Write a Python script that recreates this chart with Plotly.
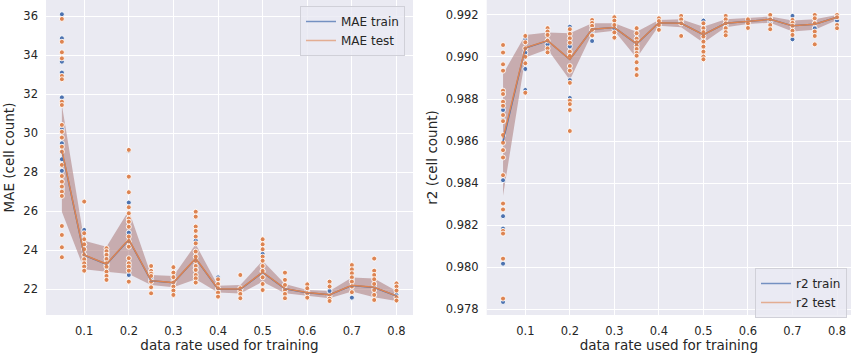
import plotly.graph_objects as go

# ---------------- data ----------------
rates = [0.05, 0.1, 0.15, 0.2, 0.25, 0.3, 0.35, 0.4, 0.45, 0.5, 0.55, 0.6, 0.65, 0.7, 0.75, 0.8]
x_ticks = [0.1, 0.2, 0.3, 0.4, 0.5, 0.6, 0.7, 0.8]
x_tick_labels = ["0.1", "0.2", "0.3", "0.4", "0.5", "0.6", "0.7", "0.8"]
mae_ticks = [22, 24, 26, 28, 30, 32, 34, 36]
r2_ticks = [0.978, 0.980, 0.982, 0.984, 0.986, 0.988, 0.990, 0.992]
r2_tick_labels = ["0.978", "0.980", "0.982", "0.984", "0.986", "0.988", "0.990", "0.992"]

mae_test_points = [
    [35.85, 34.68, 34.14, 33.83, 32.93, 32.76, 31.61, 31.44, 30.42, 30.07, 29.77, 29.30, 29.05, 28.37, 27.80, 27.51, 27.26, 27.00, 26.78, 25.24, 24.78, 24.15, 23.64],
    [26.49, 24.87, 24.56, 24.30, 24.05, 23.76, 23.54, 23.33, 23.16, 22.95],
    [24.10, 23.95, 23.76, 23.55, 23.33, 23.15, 22.90, 22.68, 22.48],
    [29.14, 27.77, 26.97, 26.20, 25.89, 25.62, 25.46, 25.20, 24.70, 24.44, 24.18, 23.59, 23.33, 23.16, 22.95, 22.39],
    [23.19, 22.94, 22.80, 22.68, 22.39, 22.10, 21.79],
    [23.13, 22.85, 22.62, 22.34, 22.14, 21.93, 21.71],
    [25.97, 25.72, 25.21, 24.99, 24.70, 24.35, 23.93, 23.67, 23.45, 23.19, 22.99, 22.73, 22.56, 22.34],
    [22.51, 22.27, 22.05, 21.83, 21.62],
    [22.73, 22.05, 21.90, 21.76, 21.54],
    [24.56, 24.30, 24.05, 23.67, 23.46, 23.19, 22.94, 22.61, 22.27, 21.96],
    [22.85, 22.48, 22.22, 21.95, 21.76, 21.54],
    [22.25, 22.05, 21.79, 21.57],
    [22.39, 22.14, 21.66, 21.52, 21.40],
    [23.24, 23.02, 22.82, 22.61, 22.39, 22.14, 21.85],
    [23.57, 22.95, 22.73, 22.51, 22.27, 21.96, 21.71, 21.45],
    [22.30, 22.14, 21.93, 21.59, 21.42],
]
mae_train_points = [
    [36.09, 34.86, 33.66, 33.10, 31.83, 30.20, 29.48, 28.66, 28.07, 27.15],
    [25.04, 24.60, 24.30, 23.40, 23.16],
    [23.85, 23.25, 22.75],
    [29.10, 26.44, 24.90, 22.73],
    [22.90, 22.50],
    [22.40, 21.82],
    [24.50, 23.00],
    [22.61, 22.00],
    [22.00],
    [23.81, 22.90],
    [22.00],
    [21.90],
    [21.91],
    [22.50, 21.57],
    [22.10],
    [21.71],
]
mae_test_mean = [29.14, 23.76, 23.29, 24.56, 22.44, 22.34, 23.59, 22.01, 22.01, 22.87, 22.03, 21.83, 21.72, 22.20, 22.10, 21.66]
mae_train_mean = [29.10, 23.74, 23.28, 24.54, 22.43, 22.33, 23.57, 22.00, 22.00, 22.86, 22.02, 21.82, 21.72, 22.19, 22.09, 21.65]
mae_ci_upper = [31.44, 24.49, 24.18, 26.03, 22.73, 22.68, 24.30, 22.18, 22.22, 23.46, 22.27, 21.96, 21.91, 22.60, 22.55, 21.91]
mae_ci_lower = [25.97, 23.02, 22.90, 22.78, 22.22, 22.10, 22.51, 21.83, 21.78, 22.39, 21.80, 21.66, 21.54, 21.88, 21.59, 21.40]

r2_test_points = [
    [0.99057, 0.99021, 0.98965, 0.98935, 0.98840, 0.98824, 0.98787, 0.98768, 0.98724, 0.98695, 0.98629, 0.98592, 0.98557, 0.98522, 0.98438, 0.98303, 0.98275, 0.98173, 0.98160, 0.98041, 0.97851],
    [0.99100, 0.99070, 0.99041, 0.99001, 0.98970, 0.98830],
    [0.99137, 0.99121, 0.99105, 0.99078, 0.99041, 0.99022],
    [0.99132, 0.99110, 0.99089, 0.99068, 0.99025, 0.99005, 0.98957, 0.98935, 0.98877, 0.98792, 0.98776, 0.98748, 0.98648],
    [0.99176, 0.99162, 0.99148, 0.99129, 0.99102],
    [0.99189, 0.99173, 0.99152, 0.99117, 0.99092],
    [0.99137, 0.99113, 0.99087, 0.99070, 0.99054, 0.99038, 0.99019, 0.99006, 0.98975, 0.98943, 0.98914],
    [0.99184, 0.99171, 0.99152, 0.99129],
    [0.99195, 0.99179, 0.99160, 0.99100],
    [0.99160, 0.99137, 0.99118, 0.99097, 0.99073, 0.99049, 0.99025, 0.99002, 0.98989],
    [0.99195, 0.99179, 0.99160, 0.99137, 0.99118, 0.99103],
    [0.99179, 0.99160, 0.99138],
    [0.99200, 0.99179, 0.99152, 0.99132],
    [0.99176, 0.99162, 0.99148, 0.99125, 0.99105],
    [0.99200, 0.99184, 0.99160, 0.99121, 0.99100, 0.99060],
    [0.99200, 0.99189, 0.99152, 0.99137],
]
r2_train_points = [
    [0.98824, 0.98748, 0.98700, 0.98414, 0.98243, 0.98184, 0.98017, 0.97835],
    [0.99085, 0.99020, 0.98943, 0.98843],
    [0.99060],
    [0.99144, 0.99050, 0.98890, 0.98805],
    [0.99110, 0.99076],
    [0.99135],
    [0.99030],
    [0.99160],
    [0.99170],
    [0.99173, 0.99080],
    [0.99150],
    [0.99170],
    [0.99190, 0.99168],
    [0.99195, 0.99084],
    [0.99137, 0.99110],
    [0.99173],
]
r2_test_mean = [0.98613, 0.99044, 0.99078, 0.98989, 0.99132, 0.99140, 0.99063, 0.99163, 0.99160, 0.99106, 0.99160, 0.99171, 0.99179, 0.99148, 0.99156, 0.99189]
r2_train_mean = [0.98600, 0.99042, 0.99077, 0.98988, 0.99132, 0.99140, 0.99062, 0.99163, 0.99160, 0.99106, 0.99160, 0.99171, 0.99179, 0.99148, 0.99156, 0.99189]
r2_ci_upper = [0.98919, 0.99105, 0.99116, 0.99113, 0.99160, 0.99160, 0.99120, 0.99176, 0.99179, 0.99144, 0.99179, 0.99184, 0.99192, 0.99173, 0.99179, 0.99200]
r2_ci_lower = [0.98340, 0.98998, 0.99037, 0.98890, 0.99113, 0.99125, 0.98995, 0.99148, 0.99141, 0.99068, 0.99141, 0.99157, 0.99163, 0.99121, 0.99129, 0.99176]

# ---------------- style ----------------
W, H = 851, 354
BLUE = "#4C72B0"
ORANGE = "#DD8452"
BAND = "rgba(170,120,120,0.55)"
BG = "#EAEAF2"
TXT = "#262626"
FONT = "DejaVu Sans"


def flatten(points):
    xs, ys = [], []
    for r, vals in zip(rates, points):
        for v in vals:
            xs.append(r)
            ys.append(v)
    return xs, ys


fig = go.Figure()


def add_panel(xa, ya, train_pts, test_pts, train_mean, test_mean, lo, hi):
    fig.add_trace(go.Scatter(x=rates, y=hi, mode="lines", line=dict(width=0, color=BAND),
                             xaxis=xa, yaxis=ya, showlegend=False, hoverinfo="skip"))
    fig.add_trace(go.Scatter(x=rates, y=lo, mode="lines", line=dict(width=0, color=BAND),
                             fill="tonexty", fillcolor=BAND,
                             xaxis=xa, yaxis=ya, showlegend=False, hoverinfo="skip"))
    for pts, col in ((train_pts, BLUE), (test_pts, ORANGE)):
        xs, ys = flatten(pts)
        fig.add_trace(go.Scatter(x=xs, y=ys, mode="markers",
                                 marker=dict(size=5, color=col, line=dict(width=0.9, color="white")),
                                 xaxis=xa, yaxis=ya, showlegend=False))
    fig.add_trace(go.Scatter(x=rates, y=train_mean, mode="lines", line=dict(width=1.5, color=BLUE),
                             xaxis=xa, yaxis=ya, showlegend=False))
    fig.add_trace(go.Scatter(x=rates, y=test_mean, mode="lines", line=dict(width=1.5, color=ORANGE),
                             xaxis=xa, yaxis=ya, showlegend=False))


add_panel("x", "y", mae_train_points, mae_test_points, mae_train_mean, mae_test_mean, mae_ci_lower, mae_ci_upper)
add_panel("x2", "y2", r2_train_points, r2_test_points, r2_train_mean, r2_test_mean, r2_ci_lower, r2_ci_upper)

# legend entries
for name, col, lg in (("MAE train", "rgba(76,114,176,0.75)", "legend"),
                      ("MAE test", "rgba(221,132,82,0.6)", "legend"),
                      ("r2 train", "rgba(76,114,176,0.75)", "legend2"),
                      ("r2 test", "rgba(221,132,82,0.6)", "legend2")):
    fig.add_trace(go.Scatter(x=[None], y=[None], mode="lines", name=name,
                             line=dict(color=col, width=1.5), legend=lg,
                             xaxis="x" if lg == "legend" else "x2",
                             yaxis="y" if lg == "legend" else "y2"))

ydom = [1 - 315 / H, 1.0]
axis_common = dict(showgrid=True, gridcolor="white", gridwidth=1, zeroline=False,
                   showline=False, ticks="", tickfont=dict(family=FONT, size=11.5, color=TXT),
                   ticklabelstandoff=7)

legend_common = dict(xanchor="left", yanchor="top", traceorder="normal",
                     bgcolor="rgba(234,234,242,0.8)", bordercolor="#d0d0d8", borderwidth=1,
                     font=dict(family=FONT, size=12, color=TXT), tracegroupgap=0)

fig.update_layout(
    width=W, height=H,
    margin=dict(l=0, r=0, t=0, b=0),
    paper_bgcolor="white", plot_bgcolor=BG,
    font=dict(family=FONT, color=TXT),
    xaxis=dict(domain=[46 / W, 413 / W], range=[0.0144, 0.837], anchor="y",
               tickvals=x_ticks, ticktext=x_tick_labels,
               title=dict(text="data rate used for training", font=dict(size=13.5, color=TXT), standoff=1),
               **axis_common),
    yaxis=dict(domain=ydom, range=[20.68, 36.82], anchor="x", tickvals=mae_ticks,
               title=dict(text="MAE (cell count)", font=dict(size=13.5, color=TXT), standoff=5),
               **axis_common),
    xaxis2=dict(domain=[486.7 / W, 1.0], range=[0.0133, 0.8314], anchor="y2",
                tickvals=x_ticks, ticktext=x_tick_labels,
                title=dict(text="data rate used for training", font=dict(size=13.5, color=TXT), standoff=1),
                **axis_common),
    yaxis2=dict(domain=ydom, range=[0.97773, 0.99271], anchor="x2", tickvals=r2_ticks,
                ticktext=r2_tick_labels,
                title=dict(text="r2 (cell count)", font=dict(size=13.5, color=TXT), standoff=5),
                **axis_common),
    legend=dict(x=300 / W, y=1 - 6 / H, **legend_common),
    legend2=dict(x=755 / W, y=1 - 268 / H, **legend_common),
)

fig.write_html("out.html")
